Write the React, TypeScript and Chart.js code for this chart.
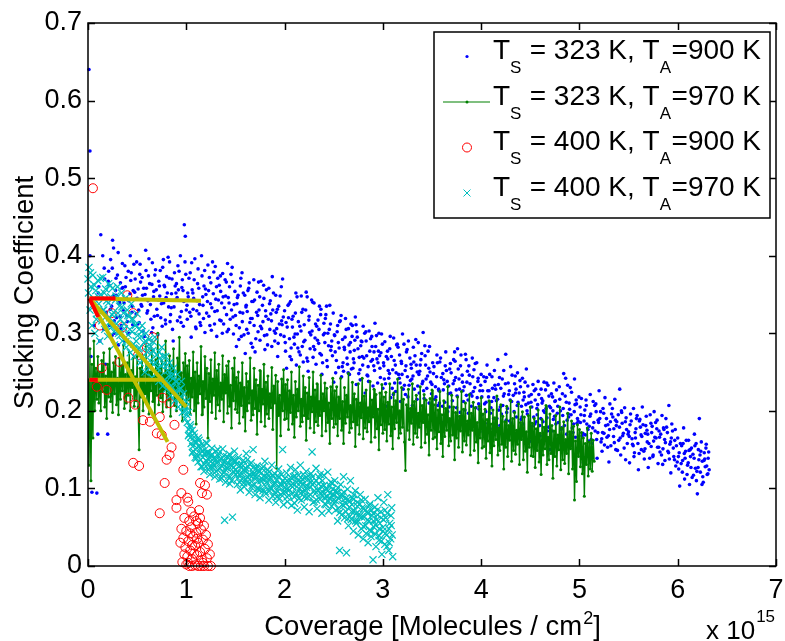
import React, { useEffect, useRef } from 'react';
import { Chart, registerables } from 'chart.js';

Chart.register(...registerables);

// ---- axis ticks ----
const xTickValues = [0, 1, 2, 3, 4, 5, 6, 7];
const yTickValues = [0, 0.1, 0.2, 0.3, 0.4, 0.5, 0.6, 0.7];

// ---- texts ----
const yTitle = 'Sticking Coefficient';
const xTitleMain = 'Coverage [Molecules / cm';
const xTitleSup = '2';
const xTitleEnd = ']';
const xExpBase = 'x 10';
const xExpPower = '15';
const legendSurface = ['323', '323', '400', '400'];
const legendAnneal = ['900', '970', '900', '970'];

// ---- series: flat [x, y, x, y, ...], x in units of 1e15 molecules/cm^2 ----
// T_S = 323 K, T_A = 900 K (blue dots)
const ts323ta900 = [
0.01,.64,0.02,.535,0.02,.40,0.03,.27,0.04,.095,0.05,.34,0.06,.31,0.07,.23,0.08,.227,0.09,.094,0.10,.17,0.11,.36,0.12,.29,0.13,.427,0.14,.33,0.15,.40,0.16,.305,0.17,.37,0.18,.26,0.19,.345,0.20,.17,0.21,.38,0.22,.31,0.23,.395,0.24,.335,0.25,.42,0.26,.41,0.27,.30,0.28,.355,0.29,.32,0.30,.375,0.31,.285,0.32,.34,0.33,.365,0.34,.31,0.35,.39,0.36,.33,0.37,.29,0.38,.36,0.39,.345,0.40,.315,0.41,.38,0.42,.30,0.43,.40,0.44,.378,0.45,.335,0.46,.355,0.47,.28,0.48,.37,0.49,.325,0.50,.345,
0.51,.357,0.52,.314,0.53,.389,0.54,.337,0.55,.372,0.56,.303,0.58,.35,0.59,.381,0.60,.326,0.61,.342,0.62,.396,0.64,.318,0.65,.363,0.66,.307,0.67,.354,0.68,.375,0.70,.331,0.71,.298,0.72,.367,0.73,.348,0.74,.32,0.76,.385,0.77,.339,0.78,.36,0.79,.312,0.80,.373,0.82,.334,0.83,.392,0.84,.324,0.85,.351,0.86,.305,0.88,.378,0.89,.343,0.90,.364,0.91,.316,0.92,.356,0.94,.40,0.95,.328,0.96,.369,0.97,.309,0.98,.44,0.99,.425,1.00,.33,
1.01,.318,1.02,.347,1.04,.378,1.05,.295,1.06,.356,1.07,.331,1.08,.369,1.10,.306,1.11,.342,1.12,.383,1.13,.325,1.14,.314,1.16,.374,1.17,.336,1.18,.361,1.19,.301,1.20,.35,1.22,.388,1.23,.322,1.24,.31,1.25,.365,1.26,.333,1.28,.379,1.29,.328,1.30,.344,1.31,.296,1.32,.371,1.34,.317,1.35,.354,1.36,.339,1.37,.377,1.38,.312,1.40,.348,1.41,.324,1.42,.39,1.43,.305,1.44,.36,1.46,.33,1.47,.366,1.48,.299,
1.50,.323,1.51,.283,1.52,.346,1.54,.307,1.55,.361,1.56,.296,1.57,.315,1.58,.352,1.60,.274,1.61,.336,1.62,.328,1.63,.3,1.64,.365,1.66,.287,1.67,.319,1.68,.341,1.69,.31,1.70,.276,1.72,.353,1.73,.302,1.74,.33,1.75,.291,1.76,.367,1.78,.315,1.79,.345,1.80,.279,1.81,.322,1.82,.298,1.84,.358,1.85,.305,1.86,.325,1.87,.283,1.88,.33,1.90,.29,1.91,.349,1.92,.306,1.93,.27,1.94,.335,1.96,.298,1.97,.316,1.98,.37,
2.00,.329,2.01,.277,2.02,.255,2.04,.32,2.05,.293,2.06,.341,2.07,.266,2.08,.308,2.10,.286,2.11,.326,2.12,.259,2.13,.299,2.14,.315,2.16,.272,2.17,.348,2.18,.283,2.19,.263,2.20,.311,2.22,.353,2.23,.347,2.24,.251,2.25,.322,2.26,.28,2.28,.303,2.29,.269,2.30,.339,2.31,.294,2.32,.26,2.34,.317,2.35,.305,2.36,.274,2.37,.331,2.38,.247,2.40,.313,2.41,.288,2.42,.324,2.43,.265,2.44,.3,2.46,.336,2.47,.278,2.48,.29,
2.50,.237,2.51,.297,2.52,.249,2.54,.31,2.55,.256,2.56,.315,2.58,.244,2.59,.292,2.60,.251,2.61,.279,2.62,.319,2.64,.26,2.65,.306,2.66,.247,2.67,.288,2.68,.254,2.69,.31,2.70,.267,2.71,.278,2.72,.321,2.73,.234,2.74,.295,2.76,.269,2.77,.24,2.78,.29,2.79,.27,2.80,.309,2.82,.223,2.83,.29,2.84,.246,2.85,.257,2.86,.303,2.88,.264,2.89,.283,2.90,.232,2.91,.276,2.92,.313,2.94,.267,2.95,.262,2.96,.3,2.97,.255,2.98,.275,
3.00,.229,3.01,.258,3.02,.289,3.04,.206,3.05,.267,3.06,.242,3.07,.28,3.08,.217,3.10,.253,3.11,.294,3.12,.236,3.13,.225,3.14,.285,3.16,.247,3.17,.272,3.18,.212,3.19,.261,3.20,.299,3.22,.233,3.23,.221,3.24,.276,3.25,.244,3.26,.29,3.28,.239,3.29,.255,3.30,.207,3.31,.282,3.32,.228,3.34,.259,3.35,.25,3.36,.288,3.37,.223,3.38,.259,3.40,.235,3.41,.301,3.42,.216,3.43,.271,3.44,.241,3.46,.277,3.47,.21,3.48,.25,
3.50,.234,3.51,.194,3.52,.257,3.54,.218,3.55,.272,3.56,.207,3.57,.226,3.58,.263,3.60,.185,3.61,.248,3.62,.24,3.63,.211,3.64,.276,3.66,.199,3.67,.232,3.68,.254,3.69,.223,3.70,.188,3.72,.266,3.73,.276,3.74,.243,3.75,.204,3.76,.28,3.78,.228,3.79,.258,3.80,.193,3.81,.237,3.82,.212,3.84,.273,3.85,.22,3.86,.251,3.87,.197,3.88,.246,3.90,.206,3.91,.268,3.92,.225,3.93,.189,3.94,.261,3.96,.217,3.97,.242,3.98,.202,
4.00,.247,4.01,.195,4.02,.173,4.04,.238,4.05,.211,4.06,.259,4.07,.184,4.08,.226,4.10,.204,4.11,.244,4.12,.177,4.13,.217,4.14,.233,4.16,.19,4.17,.266,4.18,.201,4.19,.181,4.20,.229,4.22,.207,4.23,.252,4.24,.169,4.25,.273,4.26,.198,4.28,.221,4.29,.187,4.30,.257,4.31,.212,4.32,.178,4.34,.235,4.35,.223,4.36,.192,4.37,.249,4.38,.165,4.40,.231,4.41,.206,4.42,.242,4.43,.183,4.44,.218,4.46,.254,4.47,.196,4.48,.21,
4.50,.161,4.51,.221,4.52,.18,4.54,.226,4.55,.214,4.56,.186,4.57,.195,4.58,.238,4.60,.168,4.61,.228,4.62,.21,4.63,.186,4.64,.237,4.66,.203,4.67,.191,4.68,.233,4.69,.219,4.70,.15,4.72,.174,4.73,.2,4.74,.236,4.75,.212,4.76,.183,4.78,.206,4.79,.159,4.80,.215,4.82,.178,4.83,.194,4.84,.248,4.86,.242,4.87,.17,4.88,.233,4.89,.192,4.90,.202,4.91,.155,4.92,.224,4.94,.183,4.95,.241,4.96,.166,4.97,.209,4.98,.19,
5.00,.156,5.01,.185,5.02,.216,5.04,.133,5.05,.194,5.06,.169,5.07,.207,5.08,.144,5.10,.18,5.11,.221,5.12,.163,5.13,.152,5.14,.212,5.16,.174,5.17,.199,5.18,.139,5.19,.188,5.20,.226,5.22,.16,5.23,.148,5.24,.203,5.25,.171,5.26,.217,5.28,.166,5.29,.182,5.30,.134,5.31,.209,5.32,.155,5.34,.192,5.35,.177,5.36,.215,5.37,.15,5.38,.186,5.40,.162,5.41,.228,5.42,.143,5.43,.198,5.44,.168,5.46,.204,5.47,.137,5.48,.176,
5.50,.173,5.51,.133,5.52,.196,5.54,.157,5.55,.203,5.56,.146,5.57,.165,5.58,.19,5.60,.124,5.61,.187,5.62,.179,5.63,.15,5.64,.205,5.66,.138,5.67,.171,5.68,.193,5.69,.16,5.70,.127,5.72,.195,5.73,.154,5.74,.18,5.75,.143,5.76,.199,5.78,.165,5.79,.188,5.80,.132,5.81,.174,5.82,.147,5.84,.194,5.85,.151,5.86,.176,5.87,.136,5.88,.19,5.90,.148,5.91,.207,5.92,.157,5.93,.12,5.94,.183,5.96,.141,5.97,.162,5.98,.129,
6.00,.165,6.01,.125,6.02,.103,6.04,.155,6.05,.136,6.06,.178,6.07,.112,6.08,.148,6.10,.13,6.11,.162,6.12,.105,6.13,.141,6.14,.152,6.16,.117,6.17,.17,6.18,.126,6.19,.11,6.20,.093,6.21,.15,6.22,.19,6.23,.121,6.24,.16,6.25,.135,6.26,.108,6.27,.146,6.28,.128,6.29,.157,6.30,.118,6.31,.139,6.32,.124
];
// second pass of readings for the same series (between the first ones)
const ts323ta900b = [
0.105,.352,0.125,.318,0.165,.384,0.185,.327,0.215,.362,0.245,.297,0.265,.349,0.285,.371,0.315,.338,0.335,.306,0.355,.359,0.375,.387,0.395,.323,0.415,.342,0.435,.368,0.455,.311,0.475,.353,0.495,.392,
0.515,.33,0.535,.366,0.555,.349,0.575,.296,0.595,.358,0.615,.374,0.635,.337,0.655,.391,0.675,.322,0.695,.356,0.715,.343,0.735,.381,0.755,.309,0.775,.362,0.795,.346,0.815,.398,0.835,.315,0.855,.37,0.875,.334,0.895,.352,0.915,.387,0.935,.321,0.955,.359,0.975,.341,0.995,.376,
1.015,.352,1.035,.327,1.055,.391,1.075,.345,1.095,.308,1.115,.364,1.135,.337,1.155,.4,1.175,.319,1.195,.357,1.215,.341,1.235,.372,1.255,.304,1.275,.351,1.295,.386,1.315,.329,1.335,.362,1.355,.316,1.375,.347,1.395,.369,1.415,.302,1.435,.339,1.455,.376,1.475,.321,1.495,.354,
1.515,.338,1.535,.292,1.555,.371,1.575,.326,1.595,.349,1.615,.305,1.635,.358,1.655,.319,1.675,.282,1.695,.343,1.715,.327,1.735,.366,1.755,.309,1.775,.336,1.795,.297,1.815,.356,1.835,.318,1.855,.342,1.875,.373,1.895,.303,1.915,.327,1.935,.287,1.955,.348,1.975,.311,1.995,.296,
2.015,.314,2.035,.336,2.055,.27,2.075,.318,2.095,.295,2.115,.352,2.135,.281,2.155,.309,2.175,.327,2.195,.289,2.215,.33,2.235,.264,2.255,.301,2.275,.343,2.295,.283,2.315,.312,2.335,.291,2.355,.335,2.375,.272,2.395,.298,2.415,.319,2.435,.257,2.455,.305,2.475,.283,2.495,.326,
2.515,.276,2.535,.302,2.555,.281,2.575,.323,2.595,.262,2.615,.295,2.635,.268,2.655,.285,2.675,.312,2.695,.255,2.715,.291,2.735,.302,2.755,.248,2.775,.284,2.795,.259,2.815,.3,2.835,.271,2.855,.238,2.875,.293,2.895,.266,2.915,.252,2.935,.297,2.955,.277,2.975,.243,2.995,.286,
3.015,.241,3.035,.27,3.055,.252,3.075,.296,3.095,.229,3.115,.265,3.135,.249,3.155,.282,3.175,.236,3.195,.247,3.215,.286,3.235,.258,3.255,.218,3.275,.268,3.295,.241,3.315,.263,3.335,.292,3.355,.232,3.375,.251,3.395,.274,3.415,.226,3.435,.259,3.455,.245,3.475,.283,3.495,.222,
3.515,.248,3.535,.231,3.555,.262,3.575,.21,3.595,.243,3.615,.227,3.635,.258,3.655,.238,3.675,.205,3.695,.249,3.715,.235,3.735,.264,3.755,.219,3.775,.241,3.795,.272,3.815,.226,3.835,.201,3.855,.237,3.875,.258,3.895,.222,3.915,.244,3.935,.23,3.955,.262,3.975,.209,3.995,.233,
4.015,.226,4.035,.209,4.055,.243,4.075,.218,4.095,.197,4.115,.229,4.135,.252,4.155,.213,4.175,.234,4.195,.205,4.215,.241,4.235,.222,4.255,.188,4.275,.236,4.295,.214,4.315,.246,4.335,.199,4.355,.228,4.375,.211,4.395,.239,4.415,.192,4.435,.224,4.455,.208,4.475,.232,4.495,.185,
4.515,.205,4.535,.192,4.555,.228,4.575,.208,4.595,.181,4.615,.216,4.635,.2,4.655,.227,4.675,.174,4.695,.206,4.715,.222,4.735,.189,4.755,.213,4.775,.197,4.795,.231,4.815,.176,4.835,.203,4.855,.219,4.875,.188,4.895,.21,4.915,.195,4.935,.172,4.955,.208,4.975,.184,4.995,.218,
5.015,.195,5.035,.171,5.055,.201,5.075,.183,5.095,.161,5.115,.196,5.135,.178,5.155,.207,5.175,.163,5.195,.185,5.215,.199,5.235,.172,5.255,.156,5.275,.19,5.295,.168,5.315,.186,5.335,.203,5.355,.159,5.375,.181,5.395,.195,5.415,.165,5.435,.184,5.455,.152,5.475,.191,5.495,.17,
5.515,.182,5.535,.164,5.555,.141,5.575,.177,5.595,.158,5.615,.189,5.635,.167,5.655,.148,5.675,.181,5.695,.17,5.715,.139,5.735,.172,5.755,.161,5.775,.185,5.795,.153,5.815,.166,5.835,.143,5.855,.178,5.875,.159,5.895,.172,5.915,.138,5.935,.165,5.955,.152,5.975,.176,5.995,.134,
6.015,.146,6.035,.132,6.055,.158,6.075,.139,6.095,.118,6.115,.149,6.135,.127,6.155,.144,6.175,.155,6.195,.122,6.215,.137,6.235,.148,6.255,.115,6.275,.138,6.295,.129,6.315,.147
];
// third pass of readings for the same series
const ts323ta900c = [
0.207,.367,0.227,.331,0.247,.384,0.267,.316,0.287,.349,0.307,.404,0.327,.322,0.347,.358,0.367,.339,0.387,.372,0.407,.299,0.427,.351,0.447,.327,0.467,.389,0.487,.344,0.507,.312,0.527,.376,0.547,.335,0.567,.358,0.587,.407,0.607,.329,0.627,.364,0.647,.301,0.667,.347,0.687,.382,0.707,.323,0.727,.361,0.747,.338,0.767,.395,0.787,.317,0.807,.352,0.827,.371,0.847,.333,0.867,.29,0.887,.361,0.907,.346,0.927,.38,0.947,.314,0.967,.355,0.987,.392,
1.007,.336,1.027,.371,1.047,.322,1.067,.352,1.087,.396,1.107,.329,1.127,.358,1.147,.31,1.167,.347,1.187,.381,1.207,.326,1.227,.355,1.247,.338,1.267,.392,1.287,.312,1.307,.36,1.327,.343,1.347,.374,1.367,.3,1.387,.333,1.407,.366,1.427,.346,1.447,.318,1.467,.385,1.487,.337,
1.507,.31,1.527,.349,1.547,.327,1.567,.378,1.587,.298,1.607,.334,1.627,.355,1.647,.314,1.667,.341,1.687,.369,1.707,.293,1.727,.323,1.747,.347,1.767,.306,1.787,.362,1.807,.329,1.827,.285,1.847,.338,1.867,.316,1.887,.352,1.907,.3,1.927,.331,1.947,.312,1.967,.36,1.987,.321,
2.007,.288,2.027,.308,2.047,.338,2.067,.281,2.087,.322,2.107,.299,2.127,.347,2.147,.276,2.167,.303,2.187,.331,2.207,.291,2.227,.268,2.247,.317,2.267,.298,2.287,.34,2.307,.279,2.327,.309,2.347,.287,2.367,.324,2.387,.262,2.407,.3,2.427,.335,2.447,.284,2.467,.312,2.487,.271,
2.507,.298,2.527,.265,2.547,.288,2.567,.316,2.587,.257,2.607,.282,2.627,.305,2.647,.249,2.667,.276,2.687,.296,2.707,.262,2.727,.311,2.747,.28,2.767,.253,2.787,.289,2.807,.268,2.827,.302,2.847,.245,2.867,.277,2.887,.296,2.907,.258,2.927,.283,2.947,.236,2.967,.271,2.987,.299,
3.007,.262,3.027,.235,3.047,.277,3.067,.248,3.087,.27,3.107,.221,3.127,.259,3.147,.286,3.167,.242,3.187,.264,3.207,.228,3.227,.252,3.247,.279,3.267,.233,3.287,.26,3.307,.245,3.327,.271,3.347,.215,3.367,.247,3.387,.266,3.407,.238,3.427,.284,3.447,.229,3.467,.255,3.487,.237,
3.507,.262,3.527,.215,3.547,.244,3.567,.228,3.587,.268,3.607,.206,3.627,.235,3.647,.252,3.667,.222,3.687,.261,3.707,.213,3.727,.239,3.747,.227,3.767,.254,3.787,.198,3.807,.246,3.827,.231,3.847,.266,3.867,.214,3.887,.235,3.907,.219,3.927,.253,3.947,.204,3.967,.238,3.987,.226,
4.007,.218,4.027,.244,4.047,.199,4.067,.226,4.087,.247,4.107,.212,4.127,.19,4.147,.228,4.167,.215,4.187,.243,4.207,.196,4.227,.219,4.247,.235,4.267,.203,4.287,.226,4.307,.184,4.327,.22,4.347,.245,4.367,.207,4.387,.223,4.407,.189,4.427,.214,4.447,.237,4.467,.2,4.487,.219,
4.507,.211,4.527,.234,4.547,.183,4.567,.203,4.587,.221,4.607,.19,4.627,.213,4.647,.198,4.667,.236,4.687,.179,4.707,.204,4.727,.218,4.747,.193,4.767,.227,4.787,.185,4.807,.2,4.827,.222,4.847,.181,4.867,.211,4.887,.196,4.907,.23,4.927,.178,4.947,.199,4.967,.214,4.987,.187,
5.007,.205,5.027,.168,5.047,.187,5.067,.214,5.087,.176,5.107,.193,5.127,.158,5.147,.185,5.167,.209,5.187,.172,5.207,.19,5.227,.164,5.247,.197,5.267,.181,5.287,.153,5.307,.176,5.327,.196,5.347,.167,5.367,.188,5.387,.149,5.407,.179,5.427,.2,5.447,.171,5.467,.186,5.487,.158,
5.507,.167,5.527,.187,5.547,.155,5.567,.172,5.587,.194,5.607,.145,5.627,.169,5.647,.182,5.667,.151,5.687,.175,5.707,.158,5.727,.184,5.747,.141,5.767,.166,5.787,.177,5.807,.153,5.827,.17,5.847,.131,5.867,.163,5.887,.179,5.907,.146,5.927,.16,5.947,.174,5.967,.137,5.987,.155,
6.007,.141,6.027,.158,6.047,.121,6.067,.145,6.087,.162,6.107,.133,6.127,.15,6.147,.114,6.167,.139,6.187,.158,6.207,.127,6.227,.143,6.247,.105,6.267,.136,6.287,.152,6.307,.119
];

// T_S = 323 K, T_A = 970 K (green line with dots)
const ts323ta970 = [
0.00,.24,0.01,.13,0.02,.28,0.03,.11,0.04,.26,0.05,.165,0.06,.29,0.07,.2,0.08,.255,0.09,.215,0.10,.27,0.11,.21,0.12,.25,0.13,.2,0.14,.265,0.15,.225,0.16,.275,0.17,.205,0.18,.245,0.19,.19,0.20,.26,0.21,.218,0.22,.28,0.23,.212,0.24,.25,0.25,.198,0.26,.262,0.27,.222,0.28,.27,0.29,.208,0.30,.242,0.31,.195,0.32,.268,0.33,.215,0.34,.258,0.35,.226,0.36,.285,0.37,.203,0.38,.247,0.39,.21,0.40,.262,0.41,.22,0.42,.276,0.43,.2,0.44,.252,0.45,.23,0.46,.268,0.47,.206,0.48,.244,0.49,.213,0.50,.27,
0.51,.205,0.52,.15,0.53,.255,0.54,.218,0.55,.272,0.56,.2,0.57,.248,0.58,.222,0.59,.283,0.60,.209,0.61,.26,0.62,.196,0.63,.25,0.64,.226,0.65,.278,0.66,.212,0.67,.243,0.68,.19,0.69,.266,0.70,.22,0.71,.3,0.72,.208,0.73,.255,0.74,.217,0.75,.264,0.76,.199,0.77,.246,0.78,.228,0.79,.29,0.80,.205,0.81,.252,0.82,.214,0.83,.271,0.84,.193,0.85,.258,0.86,.224,0.87,.28,0.88,.207,0.89,.24,0.90,.2,0.91,.268,0.92,.219,0.93,.295,0.94,.211,0.95,.249,0.96,.187,0.97,.262,0.98,.225,0.99,.274,1.00,.203,
1.01,.258,1.02,.214,1.03,.265,1.04,.196,1.05,.242,1.06,.218,1.07,.276,1.08,.2,1.09,.25,1.10,.183,1.11,.262,1.12,.21,1.13,.245,1.14,.222,1.15,.283,1.16,.195,1.17,.238,1.18,.205,1.19,.27,1.20,.216,1.21,.255,1.22,.165,1.23,.248,1.24,.212,1.25,.266,1.26,.198,1.27,.241,1.28,.22,1.29,.275,1.30,.19,1.31,.252,1.32,.208,1.33,.26,1.34,.2,1.35,.236,1.36,.215,1.37,.271,1.38,.186,1.39,.247,1.40,.223,1.41,.258,1.42,.197,1.43,.264,1.44,.206,1.45,.233,1.46,.178,1.47,.255,1.48,.213,1.49,.268,1.50,.202,
1.51,.243,1.52,.198,1.53,.25,1.54,.184,1.55,.236,1.56,.207,1.57,.262,1.58,.192,1.59,.23,1.60,.174,1.61,.248,1.62,.2,1.63,.238,1.64,.21,1.65,.268,1.66,.188,1.67,.226,1.68,.195,1.69,.255,1.70,.203,1.71,.24,1.72,.17,1.73,.233,1.74,.2,1.75,.252,1.76,.186,1.77,.228,1.78,.209,1.79,.26,1.80,.18,1.81,.237,1.82,.196,1.83,.245,1.84,.19,1.85,.222,1.86,.204,1.87,.256,1.88,.176,1.89,.232,1.90,.21,1.91,.246,1.92,.126,1.93,.238,1.94,.194,1.95,.22,1.96,.168,1.97,.241,1.98,.2,1.99,.253,2.00,.189,
2.01,.234,2.02,.19,2.03,.24,2.04,.176,2.05,.226,2.06,.198,2.07,.25,2.08,.183,2.09,.22,2.10,.166,2.11,.238,2.12,.192,2.13,.228,2.14,.2,2.15,.257,2.16,.18,2.17,.215,2.18,.186,2.19,.245,2.20,.194,2.21,.23,2.22,.162,2.23,.223,2.24,.19,2.25,.243,2.26,.178,2.27,.218,2.28,.199,2.29,.25,2.30,.172,2.31,.227,2.32,.186,2.33,.235,2.34,.181,2.35,.212,2.36,.194,2.37,.246,2.38,.168,2.39,.222,2.40,.2,2.41,.236,2.42,.174,2.43,.229,2.44,.185,2.45,.21,2.46,.158,2.47,.231,2.48,.19,2.49,.242,2.50,.179,
2.51,.226,2.52,.183,2.53,.231,2.54,.168,2.55,.218,2.56,.19,2.57,.242,2.58,.175,2.59,.212,2.60,.158,2.61,.23,2.62,.184,2.63,.22,2.64,.192,2.65,.248,2.66,.172,2.67,.207,2.68,.178,2.69,.237,2.70,.186,2.71,.222,2.72,.154,2.73,.215,2.74,.182,2.75,.235,2.76,.17,2.77,.21,2.78,.191,2.79,.242,2.80,.164,2.81,.219,2.82,.178,2.83,.227,2.84,.173,2.85,.204,2.86,.186,2.87,.238,2.88,.16,2.89,.214,2.90,.192,2.91,.228,2.92,.166,2.93,.221,2.94,.177,2.95,.202,2.96,.15,2.97,.223,2.98,.182,2.99,.234,3.00,.171,
3.01,.218,3.02,.176,3.03,.224,3.04,.161,3.05,.211,3.06,.183,3.07,.235,3.08,.168,3.09,.205,3.10,.151,3.11,.223,3.12,.177,3.13,.213,3.14,.185,3.15,.241,3.16,.165,3.17,.2,3.18,.171,3.19,.23,3.20,.179,3.21,.215,3.22,.16,3.23,.123,3.24,.208,3.25,.175,3.26,.228,3.27,.163,3.28,.203,3.29,.184,3.30,.235,3.31,.157,3.32,.212,3.33,.171,3.34,.22,3.35,.166,3.36,.197,3.37,.179,3.38,.231,3.39,.153,3.40,.207,3.41,.185,3.42,.221,3.43,.159,3.44,.214,3.45,.17,3.46,.195,3.47,.143,3.48,.216,3.49,.175,3.50,.227,
3.51,.164,3.52,.208,3.53,.166,3.54,.214,3.55,.151,3.56,.201,3.57,.173,3.58,.225,3.59,.158,3.60,.195,3.61,.141,3.62,.213,3.63,.167,3.64,.203,3.65,.175,3.66,.231,3.67,.155,3.68,.19,3.69,.161,3.70,.22,3.71,.169,3.72,.205,3.73,.137,3.74,.198,3.75,.165,3.76,.218,3.77,.153,3.78,.193,3.79,.174,3.80,.225,3.81,.147,3.82,.202,3.83,.161,3.84,.21,3.85,.156,3.86,.187,3.87,.169,3.88,.221,3.89,.143,3.90,.197,3.91,.175,3.92,.211,3.93,.149,3.94,.204,3.95,.16,3.96,.185,3.97,.133,3.98,.206,3.99,.165,4.00,.217,
4.01,.152,4.02,.196,4.03,.154,4.04,.202,4.05,.139,4.06,.189,4.07,.161,4.08,.213,4.09,.146,4.10,.183,4.11,.129,4.12,.201,4.13,.155,4.14,.191,4.15,.163,4.16,.219,4.17,.143,4.18,.178,4.19,.149,4.20,.208,4.21,.157,4.22,.193,4.23,.125,4.24,.186,4.25,.153,4.26,.206,4.27,.141,4.28,.181,4.29,.162,4.30,.213,4.31,.135,4.32,.19,4.33,.149,4.34,.198,4.35,.144,4.36,.175,4.37,.157,4.38,.209,4.39,.131,4.40,.185,4.41,.163,4.42,.199,4.43,.137,4.44,.192,4.45,.148,4.46,.173,4.47,.121,4.48,.194,4.49,.153,4.50,.205,
4.51,.142,4.52,.184,4.53,.141,4.54,.19,4.55,.127,4.56,.177,4.57,.149,4.58,.201,4.59,.134,4.60,.171,4.61,.118,4.62,.189,4.63,.143,4.64,.179,4.65,.151,4.66,.207,4.67,.131,4.68,.166,4.69,.137,4.70,.196,4.71,.145,4.72,.181,4.73,.113,4.74,.174,4.75,.141,4.76,.194,4.77,.129,4.78,.169,4.79,.15,4.80,.205,4.81,.124,4.82,.178,4.83,.137,4.84,.186,4.85,.132,4.86,.163,4.87,.145,4.88,.197,4.89,.119,4.90,.173,4.91,.151,4.92,.187,4.93,.125,4.94,.18,4.95,.085,4.96,.161,4.97,.109,4.98,.182,4.99,.141,5.00,.176,
5.01,.128,5.02,.172,5.03,.119,5.04,.165,5.05,.09,5.06,.158,5.07,.131,5.08,.178,5.09,.116,5.10,.16,5.11,.125,5.12,.171,5.13,.122,5.14,.162,5.15,.135
];

// T_S = 400 K, T_A = 900 K (red circles)
const ts400ta900 = [
0.05,.487,0.12,.31,0.24,.326,0.35,.308,0.40,.349,0.46,.326,0.51,.272,0.32,.263,0.14,.255,0.09,.231,0.19,.227,0.41,.217,0.48,.208,0.60,.281,0.66,.295,0.56,.188,0.63,.186,0.73,.192,0.76,.217,0.83,.21,0.88,.182,0.70,.171,0.75,.169,0.85,.153,0.83,.143,0.80,.137,0.46,.133,0.52,.129,0.97,.124,0.78,.107,0.95,.094,1.01,.088,0.90,.085,1.02,.083,1.14,.107,1.19,.104,1.16,.094,1.21,.092,0.73,.068,0.90,.075,
0.98,.062,1.03,.058,1.08,.064,1.12,.055,0.95,.048,1.00,.045,1.05,.05,1.10,.043,1.15,.047,1.18,.052,0.97,.036,1.02,.032,1.07,.038,1.12,.03,1.17,.034,1.22,.028,0.99,.024,1.04,.02,1.09,.026,1.14,.018,1.19,.022,1.24,.015,1.01,.012,1.06,.009,1.11,.014,1.16,.008,1.21,.01,0.96,.005,1.00,.002,1.03,0,1.06,0,1.09,.001,1.12,0,1.15,0,1.18,0,1.22,0,1.25,0,1.05,.07,0.94,.03,1.13,.072,1.08,.016,1.02,.004,1.17,.004,1.20,.04,1.10,.058,0.98,.015,1.11,.035,1.06,.027,1.04,.042,1.14,.062
];

// T_S = 400 K, T_A = 970 K (cyan crosses)
const ts400ta970 = [
0.00,.37,0.01,.385,0.02,.33,0.03,.36,0.04,.31,0.05,.375,0.06,.345,0.07,.3,0.08,.355,0.09,.325,0.10,.368,0.11,.338,0.12,.29,0.13,.35,0.14,.316,0.15,.372,0.16,.33,0.17,.305,0.18,.357,0.19,.342,0.20,.296,0.21,.364,0.22,.32,0.23,.347,0.24,.308,0.25,.358,0.26,.327,0.27,.285,0.28,.343,0.29,.312,0.30,.36,0.31,.3,0.32,.335,0.33,.318,0.34,.352,0.35,.29,0.36,.326,0.37,.306,0.38,.345,0.39,.282,0.40,.33,0.41,.298,0.42,.322,0.43,.275,0.44,.338,0.45,.302,0.46,.318,0.47,.27,0.48,.31,0.49,.29,0.50,.325,
0.51,.28,0.52,.305,0.53,.262,0.54,.296,0.55,.31,0.56,.27,0.57,.288,0.58,.25,0.59,.3,0.60,.276,0.61,.258,0.62,.292,0.63,.265,0.64,.283,0.65,.243,0.66,.278,0.67,.26,0.68,.295,0.69,.248,0.70,.272,0.71,.255,0.72,.238,0.73,.268,0.74,.245,0.75,.282,0.76,.232,0.77,.26,0.78,.24,0.79,.27,0.80,.228,0.81,.252,0.82,.236,0.83,.262,0.84,.22,0.85,.245,0.86,.23,0.87,.255,0.88,.213,0.89,.238,0.90,.222,0.91,.247,0.92,.205,0.93,.228,0.94,.215,0.95,.238,0.96,.198,0.97,.222,0.98,.205,0.99,.19,1.00,.212,
1.01,.185,1.02,.198,1.03,.17,1.04,.182,1.05,.158,1.06,.175,1.07,.148,1.08,.166,1.09,.14,1.10,.16,1.11,.152,1.12,.134,1.13,.162,1.14,.145,1.15,.128,1.16,.157,1.17,.14,1.18,.122,1.19,.15,1.20,.136,1.21,.158,1.22,.131,1.23,.146,1.24,.118,1.25,.142,1.26,.152,1.27,.127,1.28,.139,1.29,.115,1.30,.148,1.31,.133,1.32,.124,1.33,.145,1.34,.112,1.35,.138,1.36,.129,1.37,.151,1.38,.12,1.39,.135,1.40,.108,1.41,.141,1.42,.126,1.43,.116,1.44,.144,1.45,.13,1.46,.11,1.47,.137,1.48,.122,1.49,.148,1.50,.118,1.39,.059,1.47,.063,
1.51,.131,1.52,.105,1.53,.14,1.54,.118,1.55,.098,1.56,.127,1.57,.112,1.58,.136,1.59,.102,1.60,.122,1.61,.145,1.62,.108,1.63,.128,1.64,.095,1.65,.117,1.66,.133,1.67,.104,1.68,.15,1.69,.12,1.70,.092,1.71,.113,1.72,.129,1.73,.1,1.74,.121,1.75,.088,1.76,.11,1.77,.126,1.78,.097,1.79,.116,1.80,.135,1.81,.093,1.82,.108,1.83,.124,1.84,.085,1.85,.114,1.86,.101,1.87,.13,1.88,.09,1.89,.106,1.90,.119,1.91,.082,1.92,.111,1.93,.096,1.94,.125,1.95,.087,1.96,.104,1.97,.118,1.98,.15,1.99,.079,2.00,.107,
2.01,.095,2.02,.12,2.03,.083,2.04,.108,2.05,.098,2.06,.127,2.07,.078,2.08,.102,2.09,.115,2.10,.089,2.11,.124,2.12,.093,2.13,.072,2.14,.11,2.15,.099,2.16,.13,2.17,.085,2.18,.105,2.19,.118,2.20,.076,2.21,.097,2.22,.122,2.23,.088,2.24,.112,2.25,.07,2.26,.101,2.27,.119,2.28,.147,2.29,.082,2.30,.107,2.31,.093,2.32,.126,2.33,.074,2.34,.098,2.35,.114,2.36,.086,2.37,.103,2.38,.068,2.39,.095,2.40,.117,2.41,.08,2.42,.1,2.43,.089,2.44,.121,2.45,.071,2.46,.094,2.47,.108,2.48,.077,2.49,.099,2.50,.085,
2.51,.11,2.52,.072,2.53,.094,2.54,.058,2.55,.087,2.56,.02,2.57,.105,2.58,.066,2.59,.09,2.60,.115,2.61,.062,2.62,.081,2.63,.017,2.64,.099,2.65,.052,2.66,.076,2.67,.11,2.68,.06,2.69,.088,2.70,.045,2.71,.071,2.72,.097,2.73,.055,2.74,.082,2.75,.04,2.76,.067,2.77,.092,2.78,.048,2.79,.075,2.80,.035,2.81,.063,2.82,.086,2.83,.042,2.84,.07,2.85,.03,2.86,.058,2.87,.08,2.88,.038,2.89,.065,2.90,.008,2.91,.05,2.92,.076,2.93,.025,2.94,.06,2.95,.088,2.96,.033,2.97,.055,2.98,.07,2.99,.015,3.00,.045,3.01,.082,3.02,.028,3.03,.062,3.04,.04,3.05,.092,3.06,.02,3.07,.055,3.08,.035,3.09,.075,3.10,.012
];
// second pass of readings for the same series
const ts400ta970b = [
0.005,.352,0.025,.378,0.045,.336,0.065,.362,0.085,.318,0.105,.347,0.125,.371,0.145,.329,0.165,.352,0.185,.31,0.205,.339,0.225,.361,0.245,.324,0.265,.302,0.285,.348,0.305,.326,0.325,.297,0.345,.334,0.365,.312,0.385,.289,0.405,.323,0.425,.305,0.445,.318,0.465,.286,0.485,.311,
0.505,.297,0.525,.281,0.545,.302,0.565,.266,0.585,.29,0.605,.283,0.625,.255,0.645,.274,0.665,.289,0.685,.262,0.705,.249,0.725,.276,0.745,.258,0.765,.27,0.785,.236,0.805,.259,0.825,.245,0.845,.232,0.865,.247,0.885,.225,0.905,.238,0.925,.216,0.945,.229,0.965,.211,0.985,.2,
1.005,.195,1.025,.176,1.045,.166,1.065,.154,1.085,.16,1.105,.144,1.125,.155,1.145,.137,1.165,.148,1.185,.131,1.205,.146,1.225,.124,1.245,.139,1.265,.132,1.285,.12,1.305,.137,1.325,.142,1.345,.126,1.365,.118,1.385,.134,1.405,.127,1.425,.14,1.445,.115,1.465,.129,1.485,.136,
1.505,.124,1.525,.113,1.545,.13,1.565,.119,1.585,.107,1.605,.126,1.625,.115,1.645,.131,1.665,.101,1.685,.118,1.705,.125,1.725,.109,1.745,.099,1.765,.12,1.785,.111,1.805,.103,1.825,.119,1.845,.097,1.865,.112,1.885,.104,1.905,.095,1.925,.116,1.945,.102,1.965,.092,1.985,.11,
2.005,.101,2.025,.089,2.045,.112,2.065,.104,2.085,.094,2.105,.116,2.125,.102,2.145,.087,2.165,.109,2.185,.096,2.205,.113,2.225,.101,2.245,.09,2.265,.108,2.285,.115,2.305,.097,2.325,.085,2.345,.106,2.365,.094,2.385,.11,2.405,.088,2.425,.099,2.445,.084,2.465,.103,2.485,.092,
2.505,.081,2.525,.097,2.545,.074,2.565,.09,2.585,.079,2.605,.095,2.625,.07,2.645,.086,2.665,.064,2.685,.079,2.705,.092,2.725,.067,2.745,.058,2.765,.08,2.785,.063,2.805,.074,2.825,.052,2.845,.068,2.865,.046,2.885,.072,2.905,.058,2.925,.041,2.945,.066,2.965,.048,2.985,.032,3.005,.06,3.025,.042,3.045,.068,3.065,.03,3.085,.052,3.095,.04
];
// third pass of readings for the same series (after the drop)
const ts400ta970c = [
1.002,.205,1.022,.168,1.042,.179,1.062,.146,1.082,.171,1.102,.139,1.122,.165,1.142,.152,1.162,.128,1.182,.145,1.202,.159,1.222,.138,1.242,.127,1.262,.144,1.282,.131,1.302,.122,1.322,.15,1.342,.136,1.362,.113,1.382,.142,1.402,.124,1.422,.133,1.442,.106,1.462,.139,1.482,.127,
1.502,.135,1.522,.12,1.542,.108,1.562,.131,1.582,.124,1.602,.112,1.622,.137,1.642,.118,1.662,.109,1.682,.127,1.702,.116,1.722,.1,1.742,.123,1.762,.113,1.782,.128,1.802,.096,1.822,.114,1.842,.121,1.862,.099,1.882,.117,1.902,.107,1.922,.089,1.942,.115,1.962,.106,1.982,.095,
2.002,.113,2.022,.099,2.042,.091,2.062,.114,2.082,.106,2.102,.081,2.122,.108,2.142,.117,2.162,.094,2.182,.112,2.202,.089,2.222,.104,2.242,.116,2.262,.092,2.282,.105,2.302,.083,2.322,.11,2.342,.097,2.362,.118,2.382,.091,2.402,.104,2.422,.079,2.442,.097,2.462,.087,2.482,.107,
2.502,.092,2.522,.084,2.542,.101,2.562,.069,2.582,.093,2.602,.078,2.622,.087,2.642,.061,2.662,.083,2.682,.07,2.702,.086,2.722,.058,2.742,.077,2.762,.064,2.782,.085,2.802,.051,2.822,.072,2.842,.059,2.862,.078,2.882,.045,2.902,.068,2.922,.053,2.942,.072,2.962,.039,2.982,.062,3.002,.05,3.022,.072,3.042,.025,3.062,.048,3.082,.065
];

// fitted lines (yellow) and their initial segments (red)
const fitUpperFlat = [0.015, 0.345, 1.15, 0.342];
const fitSteep = [0.015, 0.345, 1.0, 0.205];
const fitSteeper = [0.015, 0.345, 0.81, 0.16];
const fitLowerFlat = [0.015, 0.24, 0.77, 0.24];
const initUpperFlat = [0.015, 0.345, 0.28, 0.345];
const initSlope = [0.015, 0.345, 0.105, 0.321];
const initLowerFlat = [0.015, 0.24, 0.1, 0.24];

const BLUE = 'rgb(0,0,255)';
const GREEN = 'rgb(0,128,0)';
const RED = 'rgb(255,0,0)';
const CYAN = 'rgb(0,191,191)';
const YELLOW = 'rgb(191,191,0)';
const FONT = '"Liberation Sans", Arial, Helvetica, sans-serif';

function pairs(flat: number[]) {
  const out: { x: number; y: number }[] = [];
  for (let i = 0; i + 1 < flat.length; i += 2) out.push({ x: flat[i], y: flat[i + 1] });
  return out;
}

function drawMarker(ctx: CanvasRenderingContext2D, kind: number, x: number, y: number) {
  ctx.save();
  if (kind === 0) {
    ctx.fillStyle = BLUE;
    ctx.beginPath();
    ctx.arc(x, y, 1.6, 0, Math.PI * 2);
    ctx.fill();
  } else if (kind === 1) {
    ctx.strokeStyle = GREEN;
    ctx.lineWidth = 1.2;
    ctx.beginPath();
    ctx.moveTo(x - 24, y);
    ctx.lineTo(x + 23, y);
    ctx.stroke();
    ctx.fillStyle = GREEN;
    ctx.beginPath();
    ctx.arc(x, y, 1.5, 0, Math.PI * 2);
    ctx.fill();
  } else if (kind === 2) {
    ctx.strokeStyle = RED;
    ctx.lineWidth = 1;
    ctx.beginPath();
    ctx.arc(x, y, 4.5, 0, Math.PI * 2);
    ctx.stroke();
  } else {
    ctx.strokeStyle = CYAN;
    ctx.lineWidth = 1;
    ctx.beginPath();
    ctx.moveTo(x - 3.5, y - 3.5);
    ctx.lineTo(x + 3.5, y + 3.5);
    ctx.moveTo(x - 3.5, y + 3.5);
    ctx.lineTo(x + 3.5, y - 3.5);
    ctx.stroke();
  }
  ctx.restore();
}

const framePlugin = {
  id: 'matlabFrame',
  afterDatasetsDraw(chart: any) {
    const { ctx, chartArea: a, scales } = chart;
    ctx.save();
    ctx.strokeStyle = '#000';
    ctx.lineWidth = 1.5;
    ctx.strokeRect(a.left, a.top, a.right - a.left, a.bottom - a.top);
    const tl = 7;
    ctx.beginPath();
    scales.x.ticks.forEach((t: any) => {
      const px = Math.round(scales.x.getPixelForValue(t.value)) + 0.5;
      ctx.moveTo(px, a.bottom);
      ctx.lineTo(px, a.bottom - tl);
      ctx.moveTo(px, a.top);
      ctx.lineTo(px, a.top + tl);
    });
    scales.y.ticks.forEach((t: any) => {
      const py = Math.round(scales.y.getPixelForValue(t.value)) + 0.5;
      ctx.moveTo(a.left, py);
      ctx.lineTo(a.left + tl, py);
      ctx.moveTo(a.right, py);
      ctx.lineTo(a.right - tl, py);
    });
    ctx.stroke();
    ctx.restore();
  },
  afterDraw(chart: any) {
    const { ctx, chartArea: a } = chart;
    ctx.save();
    ctx.fillStyle = '#000';
    ctx.textBaseline = 'alphabetic';

    // y title
    ctx.save();
    ctx.font = `27.5px ${FONT}`;
    ctx.textAlign = 'center';
    ctx.translate(32.5, (a.top + a.bottom) / 2 - 2);
    ctx.rotate(-Math.PI / 2);
    ctx.fillText(yTitle, 0, 0);
    ctx.restore();

    // x title with superscript
    ctx.textAlign = 'left';
    const mainFont = `27.5px ${FONT}`;
    const supFont = `18px ${FONT}`;
    ctx.font = mainFont;
    const w1 = ctx.measureText(xTitleMain).width;
    const w3 = ctx.measureText(xTitleEnd).width;
    ctx.font = supFont;
    const w2 = ctx.measureText(xTitleSup).width;
    let tx = (a.left + a.right) / 2 - (w1 + w2 + w3) / 2;
    const ty = 635;
    ctx.font = mainFont;
    ctx.fillText(xTitleMain, tx, ty);
    tx += w1;
    ctx.font = supFont;
    ctx.fillText(xTitleSup, tx + 1, ty - 11);
    tx += w2 + 1;
    ctx.font = mainFont;
    ctx.fillText(xTitleEnd, tx, ty);

    // exponent
    ctx.font = `26px ${FONT}`;
    const ex = 706;
    ctx.fillText(xExpBase, ex, 639);
    const ew = ctx.measureText(xExpBase).width;
    ctx.font = `17px ${FONT}`;
    ctx.fillText(xExpPower, ex + ew + 1, 622);

    // legend
    const lx = a.right - 342;
    const ly = a.top + 9;
    const lw = 336;
    const lh = 186;
    ctx.fillStyle = '#fff';
    ctx.fillRect(lx, ly, lw, lh);
    ctx.strokeStyle = '#000';
    ctx.lineWidth = 1.5;
    ctx.strokeRect(lx, ly, lw, lh);
    const big = `28px ${FONT}`;
    const small = `17px ${FONT}`;
    for (let i = 0; i < legendSurface.length; i++) {
      const base = ly + 27 + i * 45.5;
      drawMarker(ctx, i, lx + 33, base - 2.5);
      ctx.fillStyle = '#000';
      let x = lx + 59;
      const parts: [string, boolean][] = [
        ['T', false],
        ['S', true],
        [` = ${legendSurface[i]} K, T`, false],
        ['A', true],
        [`=${legendAnneal[i]} K`, false],
      ];
      for (const [txt, sub] of parts) {
        ctx.font = sub ? small : big;
        ctx.fillText(txt, x, sub ? base + 14 : base);
        x += ctx.measureText(txt).width + (sub ? 0.5 : 0);
      }
    }
    ctx.restore();
  },
};

export default function App() {
  const canvasRef = useRef<HTMLCanvasElement | null>(null);

  useEffect(() => {
    document.body.style.margin = '0';
    const canvas = canvasRef.current;
    if (!canvas) return;
    const lineSet = (data: number[], color: string, order: number) => ({
      data: pairs(data),
      showLine: true,
      borderColor: color,
      borderWidth: 4,
      pointRadius: 0,
      pointHoverRadius: 0,
      order,
      clip: false as any,
    });
    const chart = new Chart(canvas, {
      type: 'scatter',
      data: {
        datasets: [
          {
            data: pairs([...ts323ta900, ...ts323ta900b, ...ts323ta900c]),
            pointRadius: 1.8,
            pointBackgroundColor: BLUE,
            pointBorderWidth: 0,
            borderColor: BLUE,
            order: 6,
            clip: false as any,
          },
          {
            data: pairs(ts323ta970),
            showLine: true,
            borderColor: GREEN,
            borderWidth: 1.4,
            pointRadius: 1.5,
            pointBackgroundColor: GREEN,
            pointBorderWidth: 0,
            order: 5,
          },
          {
            data: pairs(ts400ta900),
            pointRadius: 4.5,
            pointBackgroundColor: 'rgba(0,0,0,0)',
            pointBorderColor: RED,
            pointBorderWidth: 1,
            order: 4,
            clip: false as any,
          },
          {
            data: pairs([...ts400ta970, ...ts400ta970b, ...ts400ta970c]),
            pointStyle: 'crossRot',
            pointRadius: 5,
            pointBorderColor: CYAN,
            pointBorderWidth: 1.2,
            order: 3,
            clip: false as any,
          },
          lineSet(fitUpperFlat, YELLOW, 2),
          lineSet(fitSteep, YELLOW, 2),
          lineSet(fitSteeper, YELLOW, 2),
          lineSet(fitLowerFlat, YELLOW, 2),
          lineSet(initUpperFlat, RED, 1),
          lineSet(initSlope, RED, 1),
          lineSet(initLowerFlat, RED, 1),
        ] as any,
      },
      options: {
        animation: false,
        responsive: false,
        devicePixelRatio: 1,
        events: [],
        layout: { padding: { left: 0, right: 9, top: 23, bottom: 0 } },
        plugins: {
          legend: { display: false },
          tooltip: { enabled: false },
          title: { display: false },
        },
        scales: {
          x: {
            type: 'linear',
            min: xTickValues[0],
            max: xTickValues[xTickValues.length - 1],
            afterFit: (s: any) => { s.height = 75; s.paddingLeft = 0; s.paddingRight = 0; },
            afterBuildTicks: (s: any) => { s.ticks = xTickValues.map((v) => ({ value: v })); },
            grid: { display: false, drawTicks: false },
            border: { display: false },
            ticks: {
              color: '#000',
              font: { family: FONT, size: 27 },
              padding: 8,
              maxRotation: 0,
              autoSkip: false,
              callback: (v: any) => String(v),
            },
          },
          y: {
            type: 'linear',
            min: yTickValues[0],
            max: yTickValues[yTickValues.length - 1],
            afterFit: (s: any) => { s.width = 88; s.paddingTop = 0; s.paddingBottom = 0; },
            afterBuildTicks: (s: any) => { s.ticks = yTickValues.map((v) => ({ value: v })); },
            grid: { display: false, drawTicks: false },
            border: { display: false },
            ticks: {
              color: '#000',
              font: { family: FONT, size: 27 },
              padding: 6,
              autoSkip: false,
              callback: (v: any) => (Number(v) === 0 ? '0' : Number(v).toFixed(1)),
            },
          },
        },
      } as any,
      plugins: [framePlugin],
    });
    return () => chart.destroy();
  }, []);

  return (
    <div style={{ position: 'absolute', left: 0, top: 0, width: 785, height: 641, background: '#fff' }}>
      <canvas ref={canvasRef} width={785} height={641} style={{ display: 'block' }} />
    </div>
  );
}
